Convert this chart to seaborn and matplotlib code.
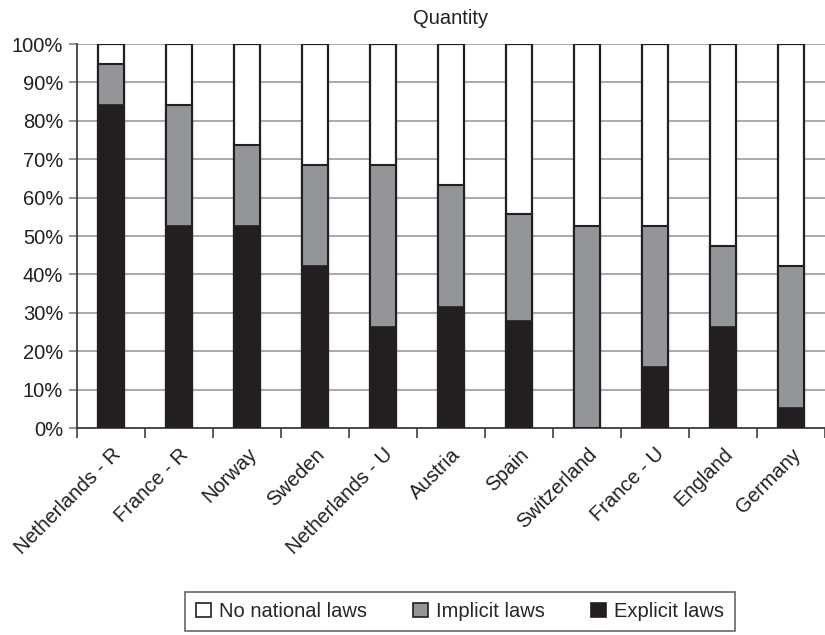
import numpy as np
import pandas as pd
import matplotlib
matplotlib.use("Agg")
import matplotlib.pyplot as plt
from matplotlib.patches import Patch
from matplotlib.ticker import FixedLocator, PercentFormatter
import seaborn as sns

countries = ["Netherlands - R", "France - R", "Norway", "Sweden", "Netherlands - U",
             "Austria", "Spain", "Switzerland", "France - U", "England", "Germany"]
# shares in percent
explicit = [84.2, 52.6, 52.6, 42.1, 26.3, 31.6, 27.8, 0.0, 15.8, 26.3, 5.3]
implicit = [10.5, 31.6, 21.1, 26.3, 42.1, 31.6, 27.8, 52.6, 36.8, 21.1, 36.8]
no_laws = [100 - e - i for e, i in zip(explicit, implicit)]

df = pd.DataFrame({"country": countries, "explicit": explicit,
                   "implicit": implicit, "none": no_laws})
df["top_implicit"] = df["explicit"] + df["implicit"]
df["top_none"] = df["top_implicit"] + df["none"]

black = "#231f20"
grey = "#939598"
fs = 14.5

sns.set_style("white")
plt.rcParams["font.family"] = ["Liberation Sans", "DejaVu Sans"]

fig = plt.figure(figsize=(8.25, 6.35), dpi=100)
ax = fig.add_axes([77 / 825, 1 - 428 / 635, 748 / 825, 384 / 635])

# stacked look: draw the cumulative heights on top of each other
sns.barplot(data=df, x="country", y="top_none", color="white", width=0.39,
            edgecolor=black, linewidth=1.6, saturation=1, ax=ax, zorder=3)
sns.barplot(data=df, x="country", y="top_implicit", color=grey, width=0.39,
            edgecolor=black, linewidth=1.5, saturation=1, ax=ax, zorder=4)
sns.barplot(data=df, x="country", y="explicit", color=black, width=0.39,
            edgecolor=black, linewidth=1.2, saturation=1, ax=ax, zorder=5)

ax.set_xlim(-0.5, len(countries) - 0.5)
ax.set_ylim(0, 100)
ax.set_yticks(np.arange(0, 101, 10))
ax.yaxis.set_major_formatter(PercentFormatter(decimals=0))
ax.yaxis.grid(True, color="#a7a9ac", linewidth=1.4, zorder=0)
ax.set_axisbelow(True)
ax.set_xlabel("")
ax.set_ylabel("")

ax.set_xticks(range(len(countries)))
ax.set_xticklabels(countries, rotation=45, ha="right", rotation_mode="anchor",
                   fontsize=fs, color="#231f20")
ax.xaxis.set_minor_locator(FixedLocator(np.arange(-0.5, len(countries), 1)))
ax.tick_params(axis="x", which="major", length=0, pad=12)
ax.tick_params(axis="x", which="minor", length=7, width=1.2, color="#404040",
               direction="out", bottom=True)
ax.tick_params(axis="y", length=6, width=1.2, color="#808080", direction="out",
               left=True, labelsize=fs, labelcolor="#231f20", pad=4)

for s in ["top", "right"]:
    ax.spines[s].set_visible(False)
ax.spines["left"].set_color("#404040")
ax.spines["left"].set_linewidth(1.3)
ax.spines["bottom"].set_color("#404040")
ax.spines["bottom"].set_linewidth(1.3)

fig.text(451 / 825, 1 - 18 / 635, "Quantity", ha="center", va="center",
         fontsize=fs, color="#231f20")

handles = [Patch(facecolor="white", edgecolor=black, linewidth=1.2, label="No national laws"),
           Patch(facecolor=grey, edgecolor=black, linewidth=1.2, label="Implicit laws"),
           Patch(facecolor=black, edgecolor=black, linewidth=1.2, label="Explicit laws")]
leg = fig.legend(handles=handles, loc="center", bbox_to_anchor=(460 / 825, 1 - 611.5 / 635),
                 ncol=3, fontsize=fs, frameon=True, fancybox=False,
                 handlelength=0.75, handleheight=0.75, handletextpad=0.4,
                 columnspacing=2.3, borderpad=0.5)
leg.get_frame().set_edgecolor("#404040")
leg.get_frame().set_linewidth(1.2)

fig.savefig("out.png", dpi=100)
